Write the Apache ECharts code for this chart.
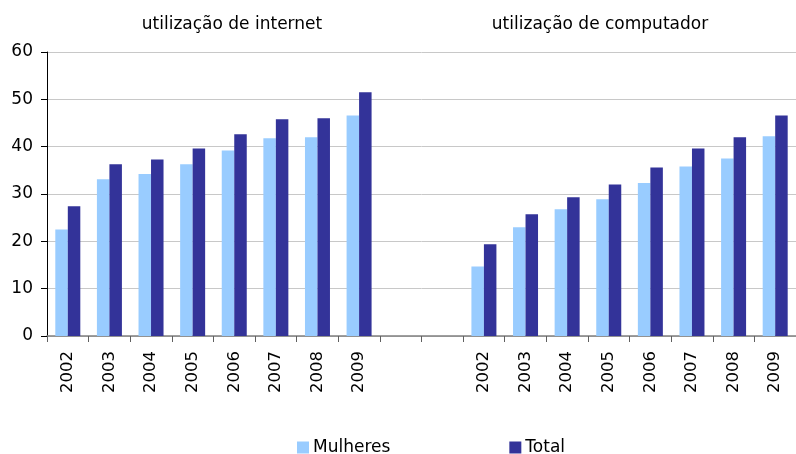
<!DOCTYPE html>
<html><head><meta charset="utf-8">
<script src="https://cdn.jsdelivr.net/npm/echarts@6/dist/echarts.min.js"></script>
<style>html,body{margin:0;padding:0;background:#fff}#c{width:796px;height:454px}</style>
</head><body><div id="c"></div>
<script>
const categories = ['2002','2003','2004','2005','2006','2007','2008','2009','','','2002','2003','2004','2005','2006','2007','2008','2009'];
const mulheres = [22.5,33.1,34.2,36.3,39.2,41.8,42.0,46.6,null,null,14.7,23.0,26.8,28.9,32.3,35.8,37.5,42.2];
const total = [27.4,36.3,37.3,39.6,42.6,45.8,46.0,51.5,null,null,19.4,25.7,29.3,32.0,35.6,39.6,42.0,46.6];
const titles = ['utilização de internet','utilização de computador'];
const seriesNames = ['Mulheres','Total'];

const chart = echarts.init(document.getElementById('c'));
const font = 'DejaVu Sans, sans-serif';
chart.setOption({
  animation:false,
  textStyle:{fontFamily:font},
  title:[
    {text:titles[0], left:227, top:11, textAlign:'center', textStyle:{fontSize:17,fontWeight:'normal',color:'#000',fontFamily:font}},
    {text:titles[1], left:595, top:11, textAlign:'center', textStyle:{fontSize:17,fontWeight:'normal',color:'#000',fontFamily:font}}
  ],
  legend:{data:seriesNames, left:292, top:434, itemWidth:12, itemHeight:12, itemGap:119,
    textStyle:{fontSize:17,color:'#000',fontFamily:font,padding:[0,0,0,-1]}, icon:'rect'},
  grid:{left:47, right:-11, top:52, bottom:118, containLabel:false},
  xAxis:{type:'category', data:categories,
    axisLine:{lineStyle:{color:'#808080',width:1.5}},
    axisTick:{show:true,length:6,lineStyle:{color:'#606060'}},
    axisLabel:{interval:0, rotate:90, fontSize:16.5, color:'#000', margin:15, fontFamily:font}},
  yAxis:{type:'value', min:0, max:60, interval:10,
    axisLine:{show:true,lineStyle:{color:'#000'}},
    axisTick:{show:true,length:6,lineStyle:{color:'#000'}},
    axisLabel:{fontSize:17,color:'#000',margin:14,fontFamily:font},
    splitLine:{lineStyle:{color:'#c8c8c8',width:1}}},
  series:[
    {name:seriesNames[0], type:'bar', data:mulheres, barWidth:12.5, barGap:'0%', itemStyle:{color:'#99ccff'}},
    {name:seriesNames[1], type:'bar', data:total, barWidth:12.5, barGap:'0%', itemStyle:{color:'#333399'}}
  ]
});
</script></body></html>
